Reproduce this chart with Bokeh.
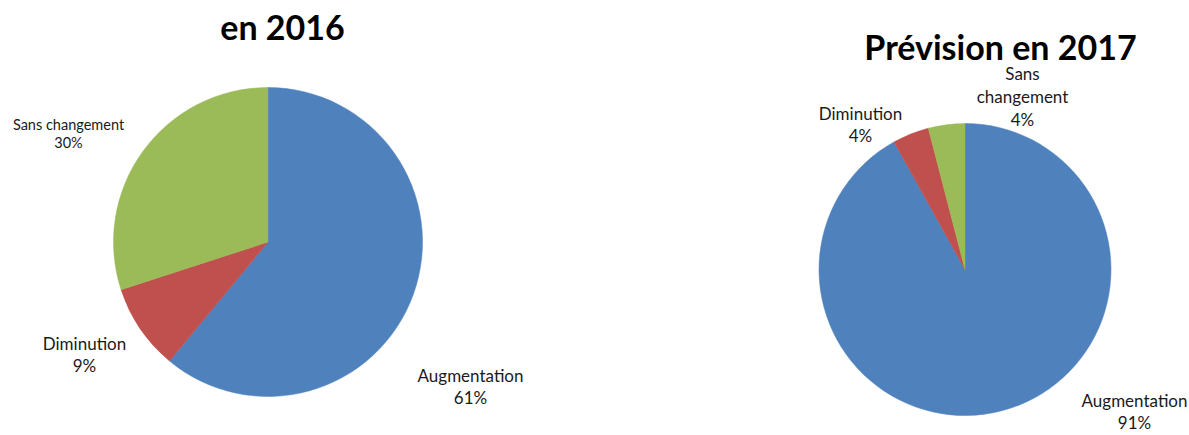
import numpy as np
from bokeh.plotting import figure
from bokeh.models import Range1d
from bokeh.core.properties import value
from bokeh.embed import file_html
from bokeh.resources import INLINE

# ---- data ----
categories = ["Augmentation", "Diminution", "Sans changement"]
values_2016 = [61, 9, 30]
values_2017 = [91, 4, 4]
titles = ["en 2016", "Prévision en 2017"]
colors = ["#4F81BD", "#C0504D", "#9BBB59"]

# ---- layout (screen pixels) ----
W, H = 1189, 435
def Y(py):
    return H - py

pies = [
    dict(vals=values_2016, cx=267.5, cy=241.5, r=154.5, title=titles[0], tx=282, ty=26,
         labels=["Augmentation\n61%", "Diminution\n9%", "Sans changement\n30%"],
         lpos=[(470, 386), (84, 354), (68, 133)],
         lsize=["17px", "17px", "14.5px"]),
    dict(vals=values_2017, cx=964.5, cy=269, r=146, title=titles[1], tx=1000, ty=46,
         labels=["Augmentation\n91%", "Diminution\n4%", "Sans\nchangement\n4%"],
         lpos=[(1134, 411), (860, 124), (1022, 96)],
         lsize=["17px", "17px", "17px"]),
]

p = figure(width=W, height=H, x_range=Range1d(0, W), y_range=Range1d(0, H),
           output_backend="svg", toolbar_location=None, min_border=0)
p.axis.visible = False
p.grid.visible = False
p.outline_line_color = None
p.background_fill_color = "white"
p.border_fill_color = "white"

for pie in pies:
    v = np.array(pie["vals"], dtype=float)
    frac = v / v.sum()
    cum = np.concatenate([[0], np.cumsum(frac)])
    start = np.deg2rad(90 - cum[1:] * 360)
    end = np.deg2rad(90 - cum[:-1] * 360)
    p.wedge(x=[pie["cx"]] * len(v), y=[Y(pie["cy"])] * len(v), radius=pie["r"],
            start_angle=start, end_angle=end, fill_color=colors, line_color=colors,
            line_width=0.5)
    p.text(x=[pie["tx"]], y=[Y(pie["ty"])], text=[pie["title"]],
           text_font=value("Lato"), text_font_style="bold", text_font_size="34px",
           text_align="center", text_baseline="middle", text_color="black")
    for (lx, ly), lab, fs in zip(pie["lpos"], pie["labels"], pie["lsize"]):
        p.text(x=[lx], y=[Y(ly)], text=[lab], text_font=value("Lato"),
               text_font_size=fs, text_align="center", text_baseline="middle",
               text_color="#1a1a1a", text_line_height=1.08)

open("out.html", "w").write(file_html(p, INLINE))
